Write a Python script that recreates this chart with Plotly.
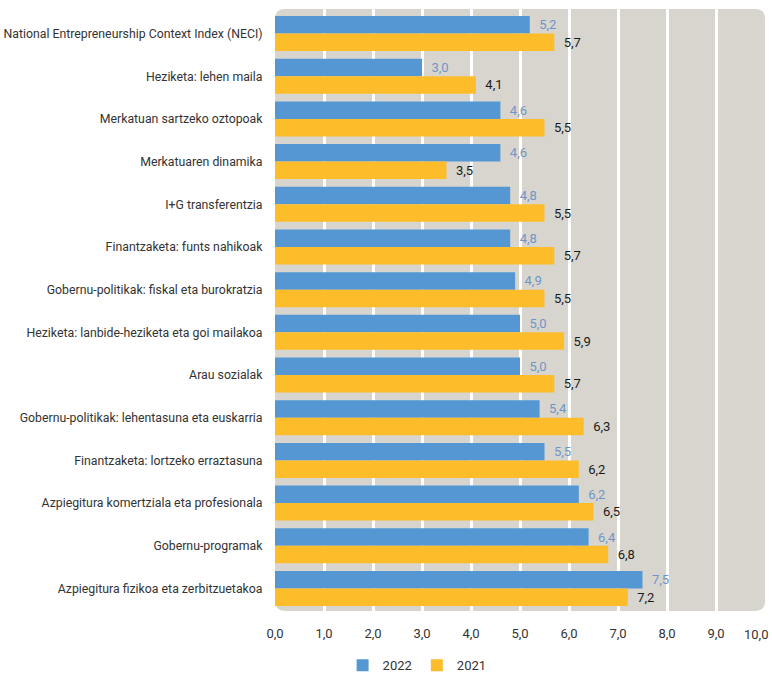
import plotly.graph_objects as go

categories = [
    "National Entrepreneurship Context Index (NECI)",
    "Heziketa: lehen maila",
    "Merkatuan sartzeko oztopoak",
    "Merkatuaren dinamika",
    "I+G transferentzia",
    "Finantzaketa: funts nahikoak",
    "Gobernu-politikak: fiskal eta burokratzia",
    "Heziketa: lanbide-heziketa eta goi mailakoa",
    "Arau sozialak",
    "Gobernu-politikak: lehentasuna eta euskarria",
    "Finantzaketa: lortzeko erraztasuna",
    "Azpiegitura komertziala eta profesionala",
    "Gobernu-programak",
    "Azpiegitura fizikoa eta zerbitzuetakoa",
]
values_2022 = [5.2, 3.0, 4.6, 4.6, 4.8, 4.8, 4.9, 5.0, 5.0, 5.4, 5.5, 6.2, 6.4, 7.5]
values_2021 = [5.7, 4.1, 5.5, 3.5, 5.5, 5.7, 5.5, 5.9, 5.7, 6.3, 6.2, 6.5, 6.8, 7.2]
x_ticks = [0, 1, 2, 3, 4, 5, 6, 7, 8, 9, 10]

FAM = "Roboto, sans-serif"
def F(size, color):
    return dict(family=FAM, size=size, color=color)

BLUE = "#5497d3"
YELLOW = "#fdbd2b"
BG = "#d8d5ce"

fig = go.Figure()
fig.add_trace(go.Bar(
    name="2022", y=categories, x=values_2022, orientation="h",
    marker=dict(color=BLUE, line=dict(width=0)),
    texttemplate="\u00a0\u00a0%{x:.1f}", textposition="outside",
    textfont=F(13, "#6e95c8"),
    constraintext="none", cliponaxis=False,
))
fig.add_trace(go.Bar(
    name="2021", y=categories, x=values_2021, orientation="h",
    marker=dict(color=YELLOW, line=dict(width=0)),
    texttemplate="\u00a0\u00a0%{x:.1f}", textposition="outside",
    textfont=F(13, "#1a1a1a"),
    constraintext="none", cliponaxis=False,
))

rx, ry = 0.02, 0.0166
path = (f"M {rx},0 L {1-rx},0 Q 1,0 1,{ry} L 1,{1-ry} Q 1,1 {1-rx},1 "
        f"L {rx},1 Q 0,1 0,{1-ry} L 0,{ry} Q 0,0 {rx},0 Z")
fig.add_shape(type="path", path=path, xref="paper", yref="paper",
              fillcolor=BG, line=dict(width=0), layer="below")

# last tick label (10,0) placed right-aligned at its tick so it stays inside the page
last = x_ticks[-1]
fig.add_annotation(x=last, xref="x", y=0, yref="paper",
                   text=f"{last:.1f}".replace(".", ","), showarrow=False,
                   xanchor="right", yanchor="top", xshift=5, yshift=-14,
                   font=F(13, "#333333"))

fig.update_layout(
    width=772, height=674,
    margin=dict(l=275, r=7, t=9, b=63, autoexpand=False),
    paper_bgcolor="white", plot_bgcolor="rgba(0,0,0,0)",
    barmode="group", bargap=0.18, bargroupgap=0,
    separators=", ",
    font=F(13, "#333333"),
    showlegend=True,
    legend=dict(orientation="h", x=0.29, xanchor="center", y=-0.09, yanchor="middle",
                font=F(13, "#333333"), traceorder="normal"),
    xaxis=dict(range=[0, 10], tickvals=x_ticks[:-1], tickformat=".1f",
               showgrid=True, gridcolor="white", gridwidth=2.5,
               zeroline=False, showline=False, automargin=False,
               ticks="outside", ticklen=10, tickcolor="rgba(0,0,0,0)",
               tickfont=F(13, "#333333")),
    yaxis=dict(categoryorder="array", categoryarray=categories,
               range=[13.527, -0.574], showgrid=False, zeroline=False,
               automargin=False,
               ticks="outside", ticklen=9, tickcolor="rgba(0,0,0,0)",
               tickfont=F(12.3, "#333333")),
)

fig.write_html("out.html", config={"displayModeBar": False},
               post_script="document.body.style.margin='0';document.body.style.overflow='hidden';")
